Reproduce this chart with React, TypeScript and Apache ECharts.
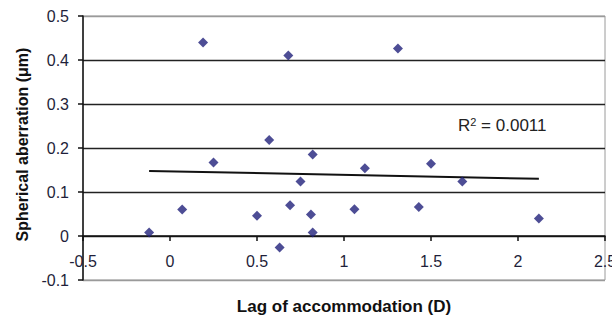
import React, { useEffect, useRef } from "react";
import * as echarts from "echarts";

const xValues = [-0.12, 0.07, 0.19, 0.25, 0.5, 0.57, 0.63, 0.68, 0.69, 0.75, 0.82, 0.81, 0.82, 1.06, 1.12, 1.31, 1.43, 1.5, 1.68, 2.12];
const yValues = [0.008, 0.06, 0.44, 0.167, 0.046, 0.218, -0.026, 0.41, 0.07, 0.124, 0.185, 0.049, 0.008, 0.061, 0.154, 0.426, 0.066, 0.164, 0.124, 0.04];
const trendX = [-0.12, 2.12];
const trendY = [0.148, 0.13];
const r2Label = "0.0011";
const xTitle = "Lag of accommodation (D)";
const yTitle = "Spherical aberration (μm)";

const FONT = "Liberation Sans, Arial, sans-serif";

export default function App() {
  const ref = useRef<HTMLDivElement>(null);
  useEffect(() => {
    if (!ref.current) return;
    const chart = echarts.init(ref.current, null, { renderer: "svg" });
    const points = xValues.map((x, i) => [x, yValues[i]]);
    const trend = trendX.map((x, i) => [x, trendY[i]]);
    chart.setOption({
      animation: false,
      backgroundColor: "#ffffff",
      grid: {
        left: 83,
        right: 7,
        top: 16,
        bottom: 40,
        outerBoundsMode: "none",
        containLabel: false,
        show: true,
        borderColor: "#9a9a9a",
        borderWidth: 1,
        backgroundColor: "transparent",
      },
      xAxis: {
        type: "value",
        min: -0.5,
        max: 2.5,
        interval: 0.5,
        offset: -44,
        name: xTitle,
        nameLocation: "middle",
        nameGap: 62,
        nameTextStyle: { fontFamily: FONT, fontSize: 17, fontWeight: "bold", color: "#111" },
        axisLine: { show: true, onZero: false, lineStyle: { color: "#111", width: 1.5 } },
        axisTick: { show: true, length: 5, lineStyle: { color: "#111", width: 1.5 } },
        axisLabel: { fontFamily: FONT, fontSize: 16, color: "#1f1f3a", margin: 17 },
        splitLine: { show: false },
      },
      yAxis: {
        type: "value",
        min: -0.1,
        max: 0.5,
        interval: 0.1,
        name: yTitle,
        nameLocation: "middle",
        nameGap: 53,
        nameTextStyle: { fontFamily: FONT, fontSize: 16, fontWeight: "bold", color: "#111", padding: [0, 0, 0, 7] },
        axisLine: { show: true, onZero: false, lineStyle: { color: "#111", width: 1.5 } },
        axisTick: { show: true, length: 5, lineStyle: { color: "#111", width: 1.5 } },
        axisLabel: { fontFamily: FONT, fontSize: 16, color: "#1f1f3a", margin: 14 },
        splitLine: {
          show: true,
          lineStyle: {
            color: ["#9a9a9a", "#222", "#222", "#222", "#222", "#222", "#9a9a9a"],
            width: 1.3,
          },
        },
      },
      series: [
        {
          type: "scatter",
          data: points,
          symbol: "diamond",
          symbolSize: 10,
          itemStyle: { color: "#20207a" },
          z: 5,
        },
        {
          type: "line",
          data: trend,
          symbol: "none",
          lineStyle: { color: "#111", width: 2 },
          z: 4,
        },
      ],
      graphic: [
        {
          type: "text",
          left: 458,
          top: 116,
          style: {
            text: "R{sup|2} = " + r2Label,
            fontFamily: FONT,
            fontSize: 17,
            fill: "#222",
            rich: {
              sup: { fontFamily: FONT, fontSize: 11, fill: "#222", verticalAlign: "top", padding: [0, 0, 8, 0] },
            },
          },
        },
      ],
    });
    return () => chart.dispose();
  }, []);
  return <div ref={ref} style={{ position: "fixed", left: 0, top: 0, width: 612, height: 320 }} />;
}
